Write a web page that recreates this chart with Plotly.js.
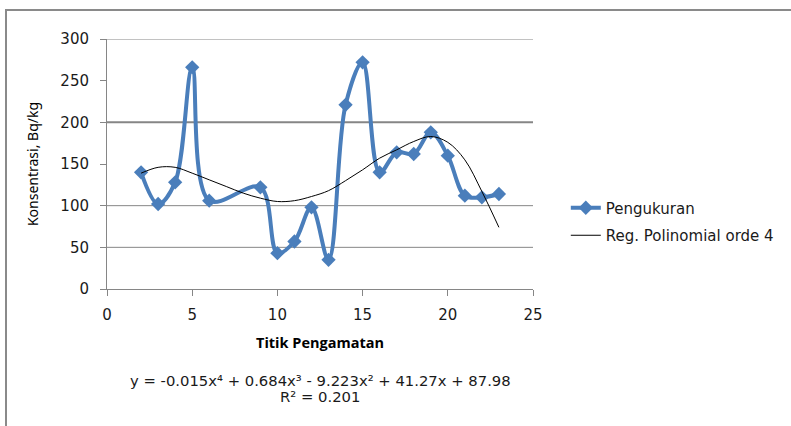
<!DOCTYPE html>
<html>
<head>
<meta charset="utf-8">
<script src="https://cdn.plot.ly/plotly-3.0.1.min.js"></script>
<style>
  html, body { margin: 0; padding: 0; background: #fff; }
  #wrap { position: relative; width: 791px; height: 426px; }
  #chart { width: 791px; height: 426px; }
  #frame { position: absolute; left: 5px; top: 9px; width: 800px; height: 430px;
           border-left: 2px solid #8a8a8a; border-top: 2px solid #8a8a8a; pointer-events: none; }
</style>
</head>
<body>
<div id="wrap">
  <div id="chart"></div>
  <div id="frame"></div>
</div>
<script>
// Measured series (Pengukuran)
const titik = [2, 3, 4, 5, 6, 9, 10, 11, 12, 13, 14, 15, 16, 17, 18, 19, 20, 21, 22, 23];
const konsentrasi = [140, 102, 128, 266, 106, 122, 43, 57, 98, 35, 221, 272, 140, 164, 162, 188, 160, 112, 110, 114];

// Trendline (Reg. Polinomial orde 4)
const trendX = [2, 3, 4, 5, 6, 7, 8, 9, 10, 11, 12, 13, 14, 15, 16, 17, 18, 19, 20, 21, 22, 23];
const trendY = [139, 146, 146, 139, 131, 123, 115, 109, 105, 106, 111, 118, 130, 143, 157, 167, 177, 183, 176, 155, 117, 74];

const xTicks = [0, 5, 10, 15, 20, 25];
const yTicks = [0, 50, 100, 150, 200, 250, 300];
const gridVals = [50, 100, 200, 300];   // gridlines visible in the picture

const seriesNames = ['Pengukuran', 'Reg. Polinomial orde 4'];
const xTitle = 'Titik Pengamatan';
const yTitle = 'Konsentrasi, Bq/kg';
const eqLine1 = 'y = -0.015x⁴ + 0.684x³ - 9.223x² + 41.27x + 87.98';
const eqLine2 = 'R² = 0.201';

const tickFont = { family: 'DejaVu Sans', size: 15, color: '#1a1a1a' };

const traces = [
  {
    x: titik, y: konsentrasi, type: 'scatter', mode: 'lines+markers',
    name: seriesNames[0], legendgroup: 'a',
    line: { color: '#4a7ebb', width: 4, shape: 'spline', smoothing: 1 },
    marker: { symbol: 'diamond', size: 11, color: '#4a7ebb' },
    cliponaxis: false
  },
  {
    x: trendX, y: trendY, type: 'scatter', mode: 'lines',
    name: seriesNames[1], legendgroup: 'b',
    line: { color: '#000000', width: 1, shape: 'spline', smoothing: 1 }
  }
];

const layout = {
  width: 791, height: 426,
  margin: { l: 106.5, r: 256, t: 38.5, b: 137 },
  paper_bgcolor: '#ffffff', plot_bgcolor: '#ffffff',
  showlegend: true,
  legend: {
    x: 1.077, xanchor: 'left', y: 0.39, yanchor: 'top',
    font: { family: 'DejaVu Sans', size: 15, color: '#1a1a1a' },
    traceorder: 'grouped', tracegroupgap: 5,
    bgcolor: 'rgba(0,0,0,0)'
  },
  xaxis: {
    range: [0, 25], tickvals: xTicks, ticktext: xTicks.map(String),
    showgrid: false, zeroline: false,
    showline: true, linecolor: '#868686', linewidth: 1,
    ticks: 'outside', ticklen: 6, tickcolor: '#868686',
    ticklabelstandoff: 6,
    tickfont: tickFont,
    title: { text: '<b>' + xTitle + '</b>', font: { family: 'Open Sans', size: 14.5, color: '#000' }, standoff: 14 }
  },
  yaxis: {
    range: [0, 300], tickvals: yTicks, ticktext: yTicks.map(String),
    showgrid: false, zeroline: false,
    showline: true, linecolor: '#868686', linewidth: 1,
    ticks: 'outside', ticklen: 6, tickcolor: '#868686',
    ticklabelstandoff: 8,
    tickfont: tickFont,
    title: { text: yTitle, font: { family: 'Noto Sans', size: 14, color: '#000' }, standoff: 18 }
  },
  shapes: gridVals.map(v => ({
    type: 'line', xref: 'paper', yref: 'y', x0: 0, x1: 1, y0: v, y1: v,
    layer: 'below', line: { color: '#868686', width: v === 200 ? 2 : 1 }
  })),
  annotations: [
    { xref: 'paper', yref: 'paper', x: 0.50, y: -0.366, xanchor: 'center', yanchor: 'middle',
      text: eqLine1, showarrow: false, font: { family: 'DejaVu Sans', size: 14.8, color: '#1a1a1a' } },
    { xref: 'paper', yref: 'paper', x: 0.50, y: -0.43, xanchor: 'center', yanchor: 'middle',
      text: eqLine2, showarrow: false, font: { family: 'DejaVu Sans', size: 14.8, color: '#1a1a1a' } }
  ]
};

Plotly.newPlot('chart', traces, layout, { displayModeBar: false, staticPlot: true });
</script>
</body>
</html>
